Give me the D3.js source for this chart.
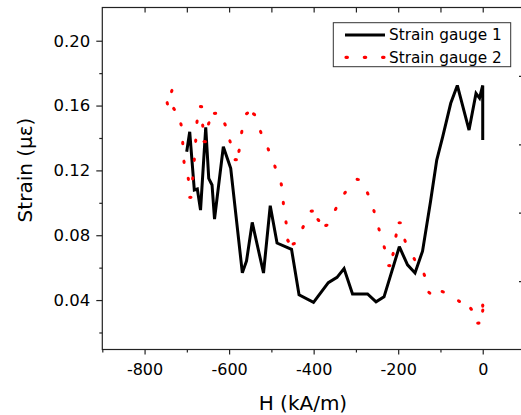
<!DOCTYPE html>
<meta charset="utf-8">
<script src="https://d3js.org/d3.v7.min.js"></script>
<style>
  body { margin: 0; background: #fff; }
  text { font-family: "DejaVu Sans", sans-serif; fill: #000; }
</style>
<div id="my_dataviz"></div>
<script>

// Strain gauge 1 (solid black line)
var hGauge1 = [-700.3, -693.2, -682.3, -675.2, -667.6, -655.3, -648.2, -640.4, -634.5, -613.7,
  -596.2, -568.7, -558.8, -545.3, -518.6, -502.7, -486.6, -452.3, -434.6, -400.3,
  -365.3, -344.7, -328.1, -308.0, -272.5, -252.4, -233.5, -197.3, -177.9, -160.2,
  -142.4, -123.5, -108.8, -94.6, -75.7, -60.1, -32.4, -15.9, -7.6, 0, 0];
var strainGauge1 = [0.1315, 0.1438, 0.1079, 0.1085, 0.0955, 0.1466, 0.1151, 0.1110, 0.0900, 0.1346,
  0.1213, 0.0568, 0.0641, 0.0879, 0.0567, 0.0982, 0.0752, 0.0713, 0.0433, 0.0386,
  0.0507, 0.0540, 0.0594, 0.0438, 0.0438, 0.0389, 0.0420, 0.0729, 0.0617, 0.0567,
  0.0702, 0.1008, 0.1264, 0.1408, 0.1614, 0.1724, 0.1449, 0.1675, 0.1646, 0.1724, 0.1387];

// Strain gauge 2 (red dotted line)
var hGauge2 = [-735.7, -746.2, -730.3, -713.8, -709.7, -706.7, -696.5, -691.7, -686.1, -682.3,
  -679.0, -675.9, -666.4, -662.4, -657.7, -648.2, -633.3, -609.7, -597.8, -584.3,
  -576.5, -570.1, -557.6, -541.0, -525.2, -507.2, -491.4, -476.5, -471.7, -465.3,
  -460.6, -447.1, -425.1, -404.5, -388.9, -370.0, -347.8, -325.8, -295.7, -272.1,
  -257.2, -245.3, -232.8, -221.0, -212.2, -205.1, -196.4, -183.8, -161.8, -138.2,
  -126.3, -94.6, -56.1, -27.7, -10.4, 0, 0];
var strainGauge2 = [0.1690, 0.1614, 0.1579, 0.1484, 0.1369, 0.1253, 0.1148, 0.1034, 0.1151, 0.1266,
  0.1383, 0.1500, 0.1593, 0.1476, 0.1377, 0.1490, 0.1552, 0.1484, 0.1379, 0.1266,
  0.1321, 0.1437, 0.1552, 0.1546, 0.1437, 0.1330, 0.1223, 0.1114, 0.0999, 0.0879,
  0.0766, 0.0747, 0.0850, 0.0949, 0.0894, 0.0861, 0.0962, 0.1062, 0.1144, 0.1058,
  0.0949, 0.0836, 0.0725, 0.0613, 0.0684, 0.0798, 0.0877, 0.0766, 0.0653, 0.0556,
  0.0445, 0.0451, 0.0394, 0.0346, 0.0258, 0.0335, 0.0366];

var seriesNames = ["Strain gauge 1", "Strain gauge 2"];
var xTicks = [-800, -600, -400, -200, 0];
var xMinorTicks = [-900, -700, -500, -300, -100];
var yTicks = [0.04, 0.08, 0.12, 0.16, 0.20];
var yMinorTicks = [0.02, 0.06, 0.10, 0.14, 0.18];

var margin = {top: 7.5, left: 102.3},
    width = 422.7,
    height = 342;

var svg = d3.select("#my_dataviz")
  .append("svg")
    .attr("width", 521)
    .attr("height", 415)
  .append("g")
    .attr("transform", "translate(" + margin.left + "," + margin.top + ")");

var x = d3.scaleLinear().domain([-900, 100]).range([0, width]);
var y = d3.scaleLinear().domain([0.0095, 0.2205]).range([height, 0]);
// right axis is just split in 5 equal parts
var yRight = d3.scaleLinear().domain([0, 5]).range([height, 0]);

// bottom axis (plain hyphen for negatives, like the original)
var xMinor = svg.append("g")
  .attr("transform", "translate(0," + height + ")")
  .call(d3.axisBottom(x).tickValues(xMinorTicks).tickSize(3).tickFormat(""));
var xAxis = svg.append("g")
  .attr("transform", "translate(0," + height + ")")
  .call(d3.axisBottom(x).tickValues(xTicks).tickSize(5).tickPadding(9)
    .tickFormat(function(d) { return String(d); }));
xAxis.selectAll("text").style("font-size", "16px").attr("font-family", null);

// left axis
var yMinor = svg.append("g")
  .call(d3.axisLeft(y).tickValues(yMinorTicks).tickSize(3).tickFormat(""));
var yAxis = svg.append("g")
  .call(d3.axisLeft(y).tickValues(yTicks).tickSize(6).tickPadding(6).tickFormat(d3.format(".2f")));
yAxis.selectAll("text").style("font-size", "16.5px").attr("font-family", null);

// top and right ticks, pointing inside
var xTop = svg.append("g")
  .call(d3.axisTop(x).tickValues(d3.range(-800, 1, 100)).tickSize(-5).tickFormat(""));
var yRightAxis = svg.append("g")
  .attr("transform", "translate(" + width + ",0)")
  .call(d3.axisRight(yRight).tickValues([1, 2, 3, 4]).tickSize(-6).tickFormat(""));

svg.selectAll(".domain").remove();
svg.selectAll(".tick line").attr("stroke", "#222").attr("stroke-width", 1.2);

// frame
svg.append("rect")
  .attr("width", width)
  .attr("height", height)
  .attr("fill", "none")
  .attr("stroke", "#222")
  .attr("stroke-width", 1.2);

// lines
var data1 = hGauge1.map(function(h, i) { return [h, strainGauge1[i]]; });
var data2 = hGauge2.map(function(h, i) { return [h, strainGauge2[i]]; });

var line = d3.line()
  .x(function(d) { return x(d[0]); })
  .y(function(d) { return y(d[1]); });

svg.append("path")
  .datum(data1)
  .attr("d", line)
  .attr("fill", "none")
  .attr("stroke", "#000")
  .attr("stroke-width", 3)
  .attr("stroke-linejoin", "miter")
  .attr("stroke-miterlimit", 2.5);

// red dotted series: one small dot per point, oriented along the path
svg.append("defs").append("marker")
  .attr("id", "reddot")
  .attr("markerUnits", "userSpaceOnUse")
  .attr("markerWidth", 8)
  .attr("markerHeight", 8)
  .attr("refX", 4)
  .attr("refY", 4)
  .attr("orient", "auto")
  .append("ellipse")
    .attr("cx", 4)
    .attr("cy", 4)
    .attr("rx", 2.2)
    .attr("ry", 1.6)
    .attr("fill", "#ff0000");

svg.append("path")
  .datum(data2)
  .attr("d", line)
  .attr("fill", "none")
  .attr("stroke", "none")
  .attr("marker-start", "url(#reddot)")
  .attr("marker-mid", "url(#reddot)")
  .attr("marker-end", "url(#reddot)");

// axis labels
svg.append("text")
  .attr("text-anchor", "middle")
  .attr("x", width / 2 - 10.7)
  .attr("y", height + 60.5)
  .style("font-size", "20px")
  .text("H (kA/m)");

svg.append("text")
  .attr("text-anchor", "middle")
  .attr("transform", "rotate(-90)")
  .attr("x", -(170 - margin.top))
  .attr("y", -margin.left + 32)
  .style("font-size", "20px")
  .text("Strain (\u03bc\u03b5)");

// legend
var legend = svg.append("g")
  .attr("transform", "translate(" + (333.3 - margin.left) + "," + (22.7 - margin.top) + ")");

legend.append("rect")
  .attr("width", 177.4)
  .attr("height", 44)
  .attr("fill", "#fff")
  .attr("stroke", "#333")
  .attr("stroke-width", 1);

legend.append("line")
  .attr("x1", 11.7).attr("x2", 51.7)
  .attr("y1", 12.3).attr("y2", 12.3)
  .attr("stroke", "#000")
  .attr("stroke-width", 3);

legend.append("line")
  .attr("x1", 12.7).attr("x2", 52)
  .attr("y1", 34.6).attr("y2", 34.6)
  .attr("stroke", "#ff0000")
  .attr("stroke-width", 3.2)
  .attr("stroke-linecap", "round")
  .attr("stroke-dasharray", "1.4,16.9");

legend.selectAll(".lbl")
  .data(seriesNames)
  .enter()
  .append("text")
    .attr("class", "lbl")
    .attr("x", 55.7)
    .attr("y", function(d, i) { return 17.8 + i * 22.3; })
    .style("font-size", "15.3px")
    .text(function(d) { return d; });

</script>
